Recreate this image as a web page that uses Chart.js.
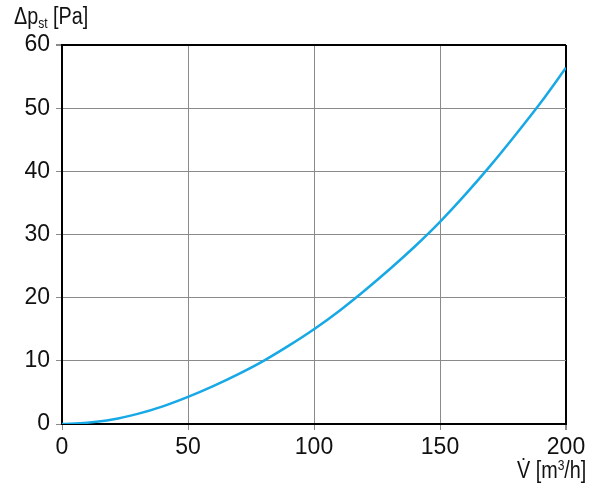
<!DOCTYPE html>
<html>
<head>
<meta charset="utf-8">
<script src="https://cdn.jsdelivr.net/npm/chart.js@4"></script>
<style>
  html, body { margin: 0; padding: 0; background: #fff; }
  #wrap { position: relative; width: 600px; height: 497px; }
  .lbl { position: absolute; font-family: 'Liberation Sans Narrow', 'Liberation Sans', sans-serif; font-size: 23px; color: #111; white-space: nowrap; transform-origin: 0 0; transform: scaleX(0.86); }
  .lbl sub { font-size: 14px; vertical-align: -4px; }
  .lbl sup { font-size: 14px; vertical-align: 8px; line-height: 0; }
</style>
</head>
<body>
<div id="wrap">
  <canvas id="c" width="600" height="497"></canvas>
  <div class="lbl" style="left:14px;top:3px;">Δp<sub>st</sub> [Pa]</div>
  <div class="lbl" style="left:517px;top:457px;">V̇ [m<sup>3</sup>/h]</div>
</div>
<script>
// airflow (m3/h) vs static pressure drop (Pa)
const flow = [0, 10, 20, 30, 40, 50, 60, 70, 80, 90, 100, 110, 120, 130, 140, 150, 160, 170, 180, 190, 200];
const pressure = [0, 0.2, 0.7, 1.6, 2.8, 4.3, 6.0, 7.9, 10.0, 12.4, 15.0, 17.9, 21.1, 24.5, 28.1, 32.0, 36.3, 40.9, 45.8, 50.9, 56.4];

const X_MAX = 200, Y_MAX = 60;
const tickFont = { family: "'Liberation Sans Narrow', 'Liberation Sans', sans-serif", size: 23 };

new Chart(document.getElementById('c'), {
  type: 'line',
  data: {
    datasets: [{
      data: flow.map((f, i) => ({ x: f, y: pressure[i] })),
      borderColor: '#17a8e6',
      borderWidth: 2.5,
      pointRadius: 0,
      cubicInterpolationMode: 'monotone',
      fill: false,
    }],
  },
  options: {
    responsive: false,
    animation: false,
    layout: { padding: { top: 45, right: 34, left: 0, bottom: 0 } },
    plugins: { legend: { display: false }, tooltip: { enabled: false } },
    scales: {
      x: {
        type: 'linear', min: 0, max: X_MAX,
        ticks: { stepSize: 50, color: '#111', font: tickFont, padding: 4, maxRotation: 0 },
        grid: {
          color: c => c.tick && c.tick.value === X_MAX ? '#000' : '#8a8a8a',
          lineWidth: c => c.tick && c.tick.value === X_MAX ? 2 : 1,
          tickColor: '#8a8a8a', tickLength: 6,
        },
        border: { color: '#000', width: 2 },
        afterFit: s => { s.height = 73; },
      },
      y: {
        min: 0, max: Y_MAX,
        ticks: { stepSize: 10, color: '#111', font: tickFont, padding: 6 },
        grid: {
          color: c => c.tick && c.tick.value === Y_MAX ? '#000' : '#8a8a8a',
          lineWidth: c => c.tick && c.tick.value === Y_MAX ? 2 : 1,
          tickColor: '#8a8a8a', tickLength: 6,
        },
        border: { color: '#000', width: 2 },
        afterFit: s => { s.width = 62; },
      },
    },
  },
});
</script>
</body>
</html>
